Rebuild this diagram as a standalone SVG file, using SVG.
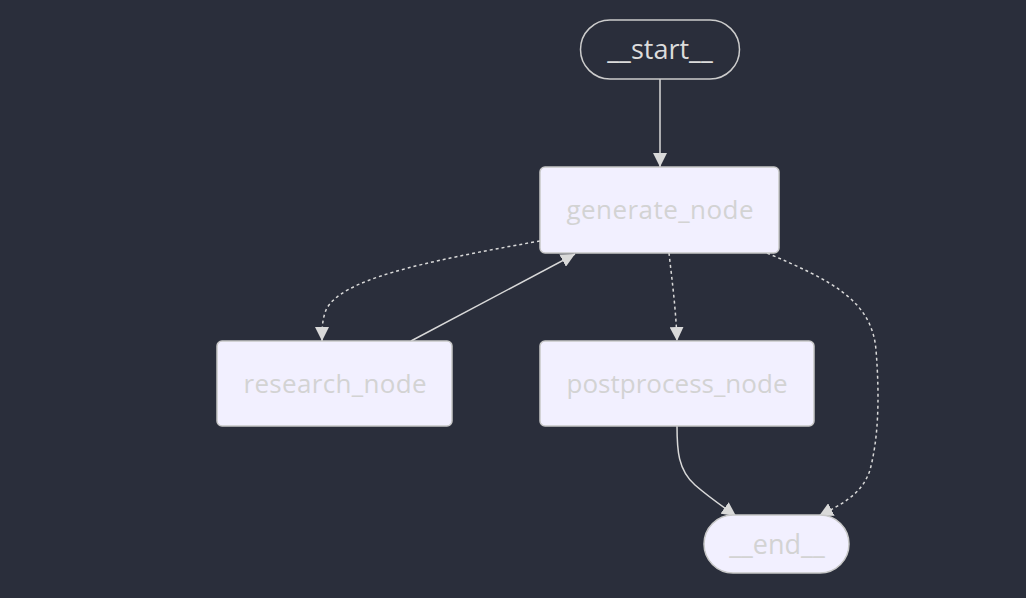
<svg xmlns="http://www.w3.org/2000/svg" width="1026" height="598" viewBox="0 0 1026 598">
<style>
.node rect{fill:#f2f0ff;stroke:#c8c8c8;stroke-width:1.5}
.term rect{fill:none;stroke:#cccccc;stroke-width:1.5}
.lbl{font-family:"Open Sans","Noto Sans",sans-serif;font-size:26px;fill:#d3d3d3;text-anchor:middle;dominant-baseline:central}
.tl{font-size:27px}
.term .lbl{fill:#dcdcdc}
.endn rect{fill:#f2f0ff;stroke:#c8c8c8;stroke-width:1.5}
.e{fill:none;stroke:#d9d9d9;stroke-width:1.5;marker-end:url(#ah)}
.d{stroke-dasharray:3 3}
</style>
<defs>
<marker id="ah" viewBox="0 0 10 10" refX="10" refY="5" markerWidth="14" markerHeight="14" markerUnits="userSpaceOnUse" orient="auto">
<path d="M0,0 L10,5 L0,10 z" fill="#d9d9d9"/>
</marker>
</defs>
<rect width="1026" height="598" fill="#2a2e3b"/>
<g id="edges">
<path class="e" d="M660,79 L660,167"/>
<path class="e d" d="M540,241 C420,262 340,280 326,310 C322,320 322,330 322,341"/>
<path class="e" d="M411,341 L575,254"/>
<path class="e d" d="M669,253 C672,280 676,310 677,341"/>
<path class="e d" d="M767,253 C830,280 872,300 876,350 C880,400 878,440 870,470 C862,495 840,505 819,516"/>
<path class="e" d="M677,426 C677,450 678,470 695,485 C710,498 722,506 736,516"/>
</g>
<g id="start" class="term">
<rect x="580.5" y="20" width="159" height="59" rx="29.5"/>
<text class="lbl tl" x="660" y="48">__start__</text>
</g>
<g id="generate_node" class="node">
<rect x="540" y="167" width="239" height="86" rx="5"/>
<text class="lbl" x="660" y="209" textLength="187" lengthAdjust="spacing">generate_node</text>
</g>
<g id="research_node" class="node">
<rect x="217" y="341" width="235" height="85" rx="5"/>
<text class="lbl" x="335" y="383" textLength="183" lengthAdjust="spacing">research_node</text>
</g>
<g id="postprocess_node" class="node">
<rect x="540" y="341" width="274" height="85" rx="5"/>
<text class="lbl" x="677" y="383" textLength="221" lengthAdjust="spacing">postprocess_node</text>
</g>
<g id="end" class="endn">
<rect x="704" y="515" width="145" height="58" rx="29"/>
<text class="lbl tl" x="777" y="543">__end__</text>
</g>
</svg>
